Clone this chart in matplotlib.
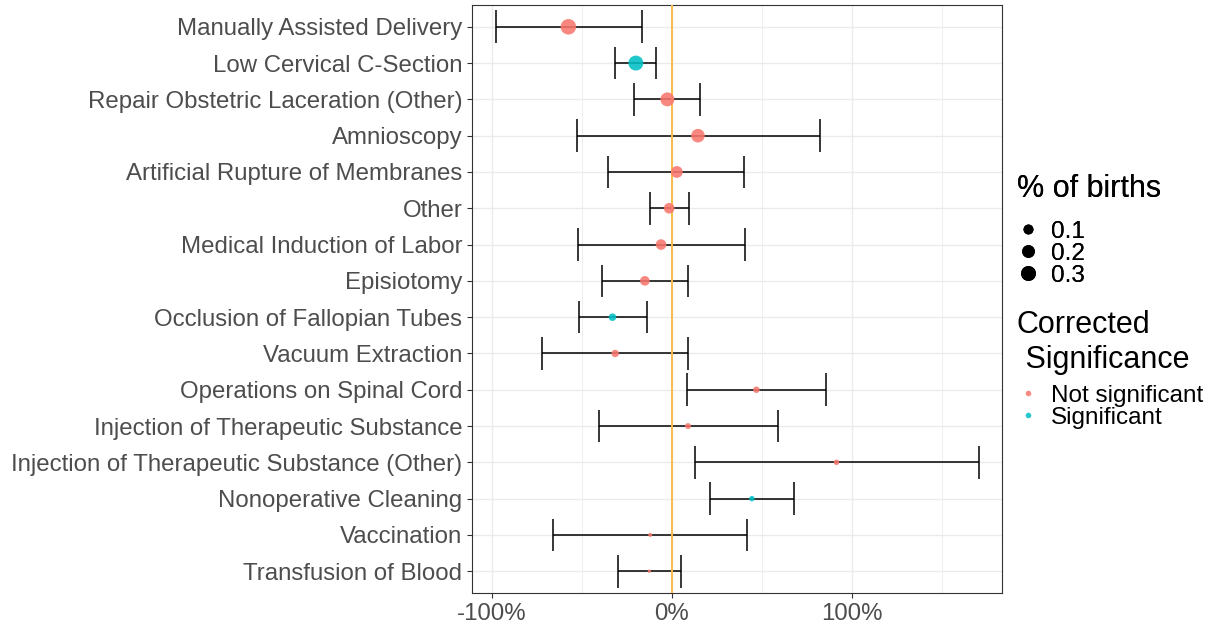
import numpy as np
import matplotlib.pyplot as plt
from matplotlib.lines import Line2D
from matplotlib.ticker import FuncFormatter, MultipleLocator

plt.rcParams['font.family'] = ['Liberation Sans', 'DejaVu Sans']

# procedures, listed top to bottom
procedures = ['Manually Assisted Delivery', 'Low Cervical C-Section',
              'Repair Obstetric Laceration (Other)', 'Amnioscopy',
              'Artificial Rupture of Membranes', 'Other',
              'Medical Induction of Labor', 'Episiotomy',
              'Occlusion of Fallopian Tubes', 'Vacuum Extraction',
              'Operations on Spinal Cord', 'Injection of Therapeutic Substance',
              'Injection of Therapeutic Substance (Other)', 'Nonoperative Cleaning',
              'Vaccination', 'Transfusion of Blood']
estimate = [-0.575, -0.20, -0.025, 0.145, 0.028, -0.015, -0.06, -0.15,
            -0.33, -0.315, 0.47, 0.09, 0.915, 0.445, -0.12, -0.125]
lower = [-0.977, -0.315, -0.21, -0.527, -0.355, -0.122, -0.522, -0.388,
         -0.517, -0.72, 0.085, -0.405, 0.127, 0.21, -0.66, -0.30]
upper = [-0.167, -0.087, 0.157, 0.822, 0.402, 0.096, 0.406, 0.09,
         -0.139, 0.09, 0.855, 0.59, 1.705, 0.68, 0.42, 0.052]
significant = [False, True, False, False, False, False, False, False,
               True, False, False, False, False, True, False, False]
pct_births = [0.33, 0.30, 0.25, 0.235, 0.16, 0.12, 0.12, 0.09,
              0.042, 0.04, 0.024, 0.017, 0.012, 0.012, 0.003, 0.002]

col_ns = '#F8766D'
col_sig = '#00BFC4'
vmin, vmax = 0.002, 0.33


def marker_area(v):
    # ggplot-like area scale -> diameter in px, converted to pt^2
    d_px = 3.3 + 12.2 * np.sqrt(np.clip((np.asarray(v) - vmin) / (vmax - vmin), 0, None))
    return (d_px * 0.72) ** 2


n = len(procedures)
y = np.arange(n)[::-1]

fig = plt.figure(figsize=(12.2, 6.26), dpi=100)
ax = fig.add_axes([0.387, 0.0527, 0.434, 0.9393])

ax.hlines(y, lower, upper, color='black', lw=1.1, zorder=3)
ax.vlines(lower, y - 0.45, y + 0.45, color='black', lw=1.1, zorder=3)
ax.vlines(upper, y - 0.45, y + 0.45, color='black', lw=1.1, zorder=3)
ax.axvline(0, color='#F8BC45', lw=1.4, zorder=4)
colors = [col_sig if s else col_ns for s in significant]
ax.scatter(estimate, y, s=marker_area(pct_births), c=colors, alpha=0.88,
           edgecolors='none', zorder=5)

ax.set_xlim(-1.11, 1.833)
ax.set_ylim(-0.6, n - 1 + 0.6)
ax.set_yticks(y)
ax.set_yticklabels(procedures)
ax.xaxis.set_major_locator(MultipleLocator(1.0))
ax.xaxis.set_minor_locator(MultipleLocator(0.5))
ax.xaxis.set_major_formatter(FuncFormatter(lambda v, p: '{:.0f}%'.format(v * 100)))
ax.grid(True, which='major', color='#EBEBEB', lw=1.0, zorder=0)
ax.grid(True, which='minor', axis='x', color='#EBEBEB', lw=0.6, zorder=0)
ax.set_axisbelow(True)
ax.tick_params(axis='both', which='major', labelsize=17.3, labelcolor='#4D4D4D',
               color='#333333', length=3.5, width=0.8)
ax.tick_params(axis='x', which='minor', length=0)
for sp in ax.spines.values():
    sp.set_color('#333333')
    sp.set_linewidth(0.8)

# size legend
size_vals = [0.1, 0.2, 0.3]
size_handles = [Line2D([], [], ls='none', marker='o', color='black',
                       markersize=np.sqrt(marker_area(v)), markeredgewidth=0)
                for v in size_vals]
leg1 = fig.legend(size_handles, ['0.1', '0.2', '0.3'], title='% of births',
                  loc='upper left', bbox_to_anchor=(0.8295, 0.73), frameon=False,
                  fontsize=17.5, title_fontsize=22, labelspacing=0.0,
                  handletextpad=0.5, handlelength=0.9, borderpad=0.2,
                  borderaxespad=0, alignment='left')
leg1._legend_box.sep = 12

# significance legend
sig_handles = [Line2D([], [], ls='none', marker='o', color=c, alpha=0.85,
                      markersize=4, markeredgewidth=0) for c in (col_ns, col_sig)]
leg2 = fig.legend(sig_handles, ['Not significant', 'Significant'],
                  title='Corrected\n Significance', loc='upper left',
                  bbox_to_anchor=(0.8295, 0.512), frameon=False, fontsize=17.5,
                  title_fontsize=22, labelspacing=0.0, handletextpad=0.5,
                  handlelength=0.9, borderpad=0.2, borderaxespad=0,
                  alignment='left')
leg2._legend_box.sep = 7
fig.add_artist(leg1)

fig.savefig('out.png', dpi=100)
